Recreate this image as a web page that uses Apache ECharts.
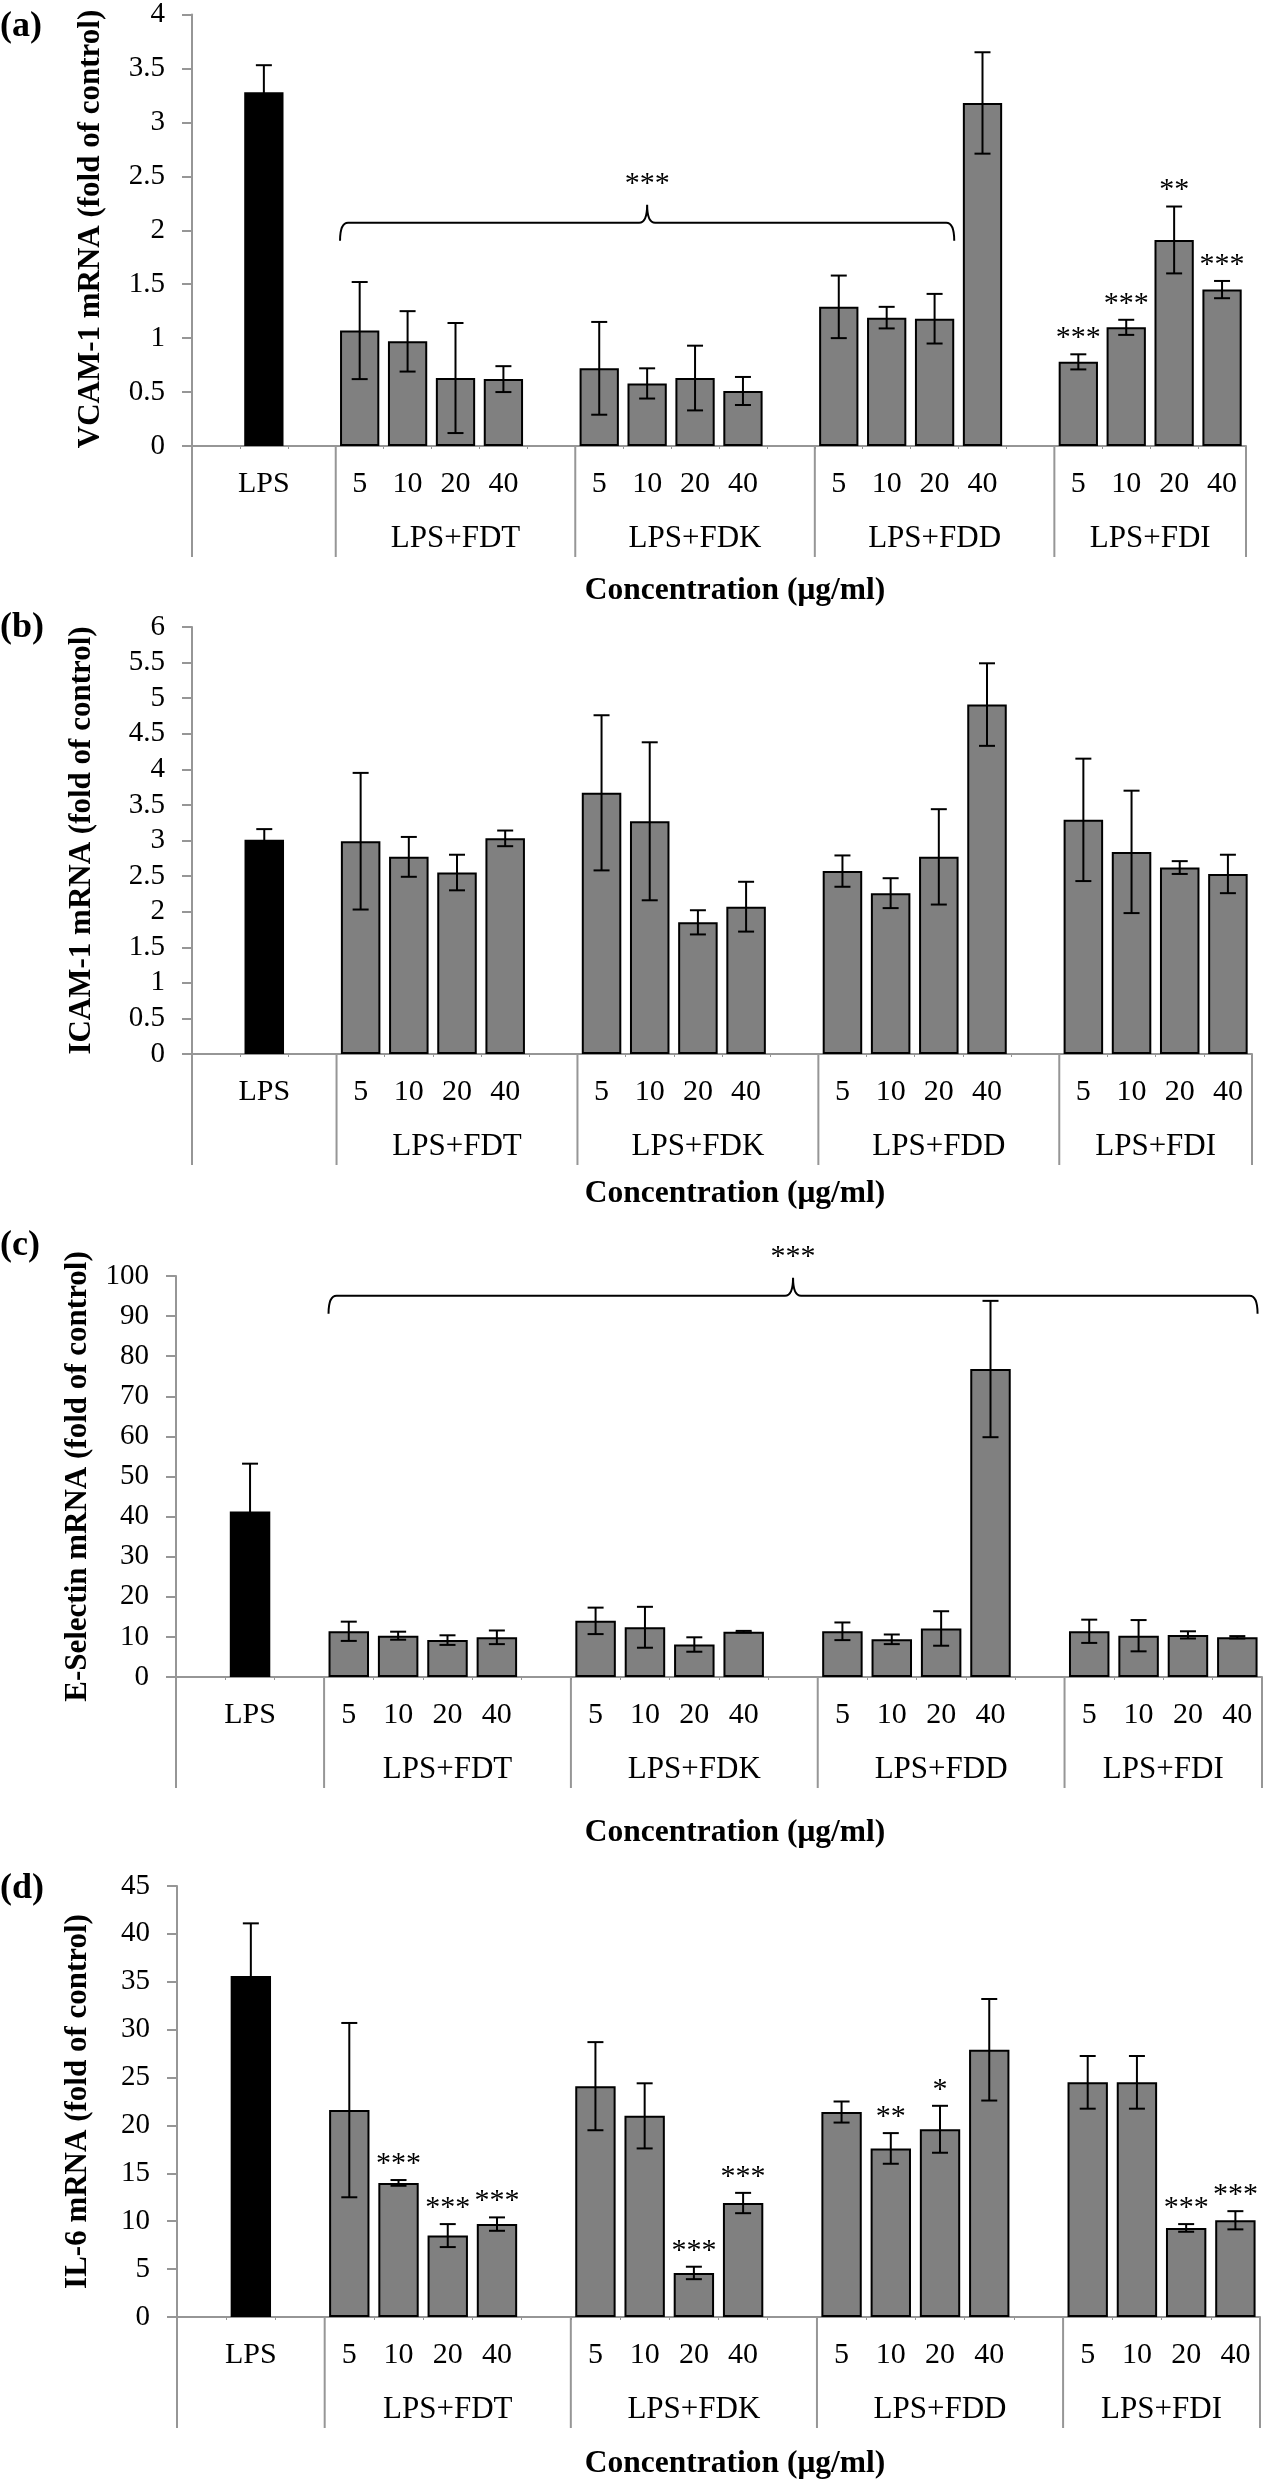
<!DOCTYPE html>
<html>
<head>
<meta charset="utf-8">
<style>html,body{margin:0;padding:0;background:#fff}#chart{width:1265px;height:2481px}</style>
<script src="https://cdn.jsdelivr.net/npm/echarts@6/dist/echarts.min.js"></script>
</head>
<body>
<div id="chart"></div>
<script>
// ---------- DATA ----------
const leafLabels = ['', 'LPS', '', '5', '10', '20', '40', '', '5', '10', '20', '40', '', '5', '10', '20', '40', '', '5', '10', '20', '40'];
const groupLabels = ['', 'LPS+FDT', 'LPS+FDK', 'LPS+FDD', 'LPS+FDI'];
const groupStart = [0, 3, 8, 13, 18];
const groupEnd = [3, 8, 13, 18, 22];
const barSlots = [1, 3, 4, 5, 6, 8, 9, 10, 11, 13, 14, 15, 16, 18, 19, 20, 21];
const xTitle = 'Concentration (\u03bcg/ml)';

const vcamValues = [3.28, 1.07, 0.97, 0.63, 0.62, 0.72, 0.58, 0.63, 0.51, 1.29, 1.19, 1.18, 3.18, 0.78, 1.10, 1.91, 1.45];
const vcamErrors = [0.25, 0.45, 0.28, 0.51, 0.12, 0.43, 0.14, 0.30, 0.13, 0.29, 0.10, 0.23, 0.47, 0.07, 0.07, 0.31, 0.08];
const vcamStars  = ['', '', '', '', '', '', '', '', '', '', '', '', '', '***', '***', '**', '***'];
const vcamBrace  = [3, 15, 2.07, '***'];

const icamValues = [3.01, 2.99, 2.77, 2.55, 3.03, 3.67, 3.27, 1.85, 2.07, 2.57, 2.26, 2.77, 4.91, 3.29, 2.84, 2.62, 2.53];
const icamErrors = [0.15, 0.96, 0.28, 0.25, 0.11, 1.09, 1.11, 0.17, 0.35, 0.22, 0.21, 0.67, 0.58, 0.86, 0.86, 0.09, 0.27];
const icamStars  = ['', '', '', '', '', '', '', '', '', '', '', '', '', '', '', '', ''];

const eselValues = [41.3, 11.4, 10.3, 9.2, 9.9, 14.0, 12.4, 8.1, 11.3, 11.4, 9.4, 12.1, 76.8, 11.4, 10.3, 10.5, 9.9];
const eselErrors = [11.9, 2.4, 1.0, 1.2, 1.7, 3.3, 5.1, 1.8, 0.2, 2.2, 1.2, 4.3, 17.0, 2.9, 3.9, 0.9, 0.3];
const eselStars  = ['', '', '', '', '', '', '', '', '', '', '', '', '', '', '', '', ''];
const eselBrace  = [3, 21, 95.1, '***'];

const il6Values = [35.6, 21.6, 14.0, 8.5, 9.7, 24.1, 21.0, 4.6, 11.9, 21.4, 17.6, 19.6, 27.9, 24.5, 24.5, 9.3, 10.1];
const il6Errors = [5.5, 9.1, 0.3, 1.2, 0.7, 4.6, 3.4, 0.65, 1.06, 1.1, 1.6, 2.45, 5.3, 2.75, 2.75, 0.4, 0.95];
const il6Stars  = ['', '', '***', '***', '***', '', '', '***', '***', '', '**', '*', '', '', '', '***', '***'];

const yNames = ['VCAM-1 mRNA (fold of control)', 'ICAM-1 mRNA (fold of control)', 'E-Selectin mRNA (fold of control)', 'IL-6 mRNA (fold of control)'];
const panelTags = ['(a)', '(b)', '(c)', '(d)'];
const yMax = [4, 6, 100, 45];
const yStep = [0.5, 0.5, 10, 5];

// ---------- LAYOUT / STYLE ----------
const FONT = '"Liberation Serif", "Times New Roman", serif';
const AXIS_GRAY = '#969696';
const BAR_GRAY = '#808080';
const layout = [
  {left: 192, right: 19, top: 12, height: 434, nameX: 91, tagY: 28, titleY: 591},
  {left: 192, right: 13, top: 627, height: 427, nameX: 82, tagY: 629, titleY: 1194},
  {left: 176, right: 3, top: 1276, height: 401, nameX: 78, tagY: 1247, titleY: 1833},
  {left: 177, right: 5, top: 1886, height: 431, nameX: 78, tagY: 1890, titleY: 2464}
];

const panels = [
  {values: vcamValues, errors: vcamErrors, stars: vcamStars, brace: vcamBrace},
  {values: icamValues, errors: icamErrors, stars: icamStars, brace: null},
  {values: eselValues, errors: eselErrors, stars: eselStars, brace: eselBrace},
  {values: il6Values, errors: il6Errors, stars: il6Stars, brace: null}
];

const catIds = leafLabels.map((_, i) => 'c' + i);

const grids = [], xAxes = [], yAxes = [], series = [], graphics = [];

panels.forEach((p, k) => {
  const L = layout[k];
  grids.push({left: L.left, right: L.right, top: L.top, height: L.height, containLabel: false});
  xAxes.push({
    type: 'category', gridIndex: k, data: catIds,
    axisLine: {lineStyle: {color: AXIS_GRAY, width: 2}},
    axisTick: {show: true, length: 3, lineStyle: {color: AXIS_GRAY, width: 1}},
    axisLabel: {interval: 0, formatter: (v, i) => leafLabels[i], fontFamily: FONT, fontSize: 30, color: '#000', margin: 23, lineHeight: 30},
    splitLine: {show: false}
  });
  yAxes.push({
    type: 'value', gridIndex: k, min: 0, max: yMax[k], interval: yStep[k],
    axisLine: {show: true, lineStyle: {color: AXIS_GRAY, width: 2}},
    axisTick: {show: true, length: 10, lineStyle: {color: AXIS_GRAY, width: 2}},
    axisLabel: {fontFamily: FONT, fontSize: 29, color: '#000', margin: 27},
    splitLine: {show: false}
  });
  // bars
  series.push({
    type: 'bar', xAxisIndex: k, yAxisIndex: k, barWidth: '82%',
    data: p.values.map((v, i) => ({value: [barSlots[i], v], itemStyle: {color: i === 0 ? '#000' : BAR_GRAY}})),
    itemStyle: {borderColor: '#000', borderWidth: 2},
    silent: true, animation: false
  });
  // error bars + significance stars
  const stars = p.stars;
  series.push({
    type: 'custom', xAxisIndex: k, yAxisIndex: k, z: 5, animation: false, silent: true,
    encode: {x: 0, y: 1},
    data: p.values.map((v, i) => [barSlots[i], v, p.errors[i]]),
    renderItem: (params, api) => {
      const x = api.value(0), v = api.value(1), e = api.value(2);
      const top = api.coord([x, v + e]);
      const bot = api.coord([x, v - e]);
      const hw = 8;
      const st = {stroke: '#000', lineWidth: 2};
      const ch = [
        {type: 'line', shape: {x1: top[0], y1: top[1], x2: bot[0], y2: bot[1]}, style: st},
        {type: 'line', shape: {x1: top[0] - hw, y1: top[1], x2: top[0] + hw, y2: top[1]}, style: st},
        {type: 'line', shape: {x1: bot[0] - hw, y1: bot[1], x2: bot[0] + hw, y2: bot[1]}, style: st}
      ];
      const s = stars[params.dataIndex];
      if (s) {
        ch.push({type: 'text', x: top[0], y: top[1] - 1, style: {text: s, fill: '#000', font: '30px ' + FONT, align: 'center', verticalAlign: 'bottom'}});
      }
      return {type: 'group', children: ch};
    }
  });
  // group separators and labels
  series.push({
    type: 'custom', xAxisIndex: k, yAxisIndex: k, z: 4, animation: false, silent: true,
    encode: {x: 0, y: 1},
    data: groupStart.map((s, g) => [s, 0, groupEnd[g], g]),
    renderItem: (params, api) => {
      const s = api.value(0), e = api.value(2), g = api.value(3);
      const band = api.size([1, 0])[0];
      const p0 = api.coord([s, 0]);
      const pe = api.coord([e - 1, 0]);
      const xl = p0[0] - band / 2, xr = pe[0] + band / 2, y0 = p0[1];
      const st = {stroke: AXIS_GRAY, lineWidth: 2};
      const ch = [{type: 'line', shape: {x1: xl, y1: y0, x2: xl, y2: y0 + 111}, style: st}];
      if (g === groupStart.length - 1) ch.push({type: 'line', shape: {x1: xr, y1: y0, x2: xr, y2: y0 + 111}, style: st});
      if (groupLabels[g]) ch.push({type: 'text', x: (xl + xr) / 2, y: y0 + 93, style: {text: groupLabels[g], fill: '#000', font: '31px ' + FONT, align: 'center', verticalAlign: 'middle'}});
      return {type: 'group', children: ch};
    }
  });
  // brace
  if (p.brace) {
    const b = p.brace;
    series.push({
      type: 'custom', xAxisIndex: k, yAxisIndex: k, z: 6, animation: false, silent: true,
      encode: {x: 0, y: 2},
      data: [[b[0], b[1], b[2]]],
      renderItem: (params, api) => {
        const band = api.size([1, 0])[0];
        const a = api.coord([api.value(0), api.value(2)]);
        const c = api.coord([api.value(1), api.value(2)]);
        const xl = a[0] - band * 0.41, xr = c[0] + band * 0.41, y = a[1];
        const xm = (xl + xr) / 2, h = 18, r = 8;
        const path = `M${xl} ${y + h} Q${xl} ${y} ${xl + r} ${y} L${xm - r} ${y} Q${xm} ${y} ${xm} ${y - h} Q${xm} ${y} ${xm + r} ${y} L${xr - r} ${y} Q${xr} ${y} ${xr} ${y + h}`;
        return {type: 'group', children: [
          {type: 'path', shape: {pathData: path}, style: {fill: 'none', stroke: '#000', lineWidth: 2}},
          {type: 'text', x: xm, y: y - h - 6, style: {text: b[3], fill: '#000', font: '30px ' + FONT, align: 'center', verticalAlign: 'bottom'}}
        ]};
      }
    });
  }
  // panel tag, y name, x title
  graphics.push({type: 'text', left: 0, top: L.tagY - 19, style: {text: panelTags[k], fill: '#000', font: 'bold 36px ' + FONT}});
  graphics.push({type: 'text', x: L.nameX, y: L.top + L.height / 2, rotation: Math.PI / 2,
    style: {text: yNames[k], fill: '#000', font: 'bold 31px ' + FONT, align: 'center', verticalAlign: 'middle'}});
  graphics.push({type: 'text', x: 735, y: L.titleY, style: {text: xTitle, fill: '#000', font: 'bold 31.5px ' + FONT, align: 'center', verticalAlign: 'middle'}});
});

const chart = echarts.init(document.getElementById('chart'), null, {renderer: 'canvas'});
chart.setOption({
  backgroundColor: '#fff',
  animation: false,
  grid: grids, xAxis: xAxes, yAxis: yAxes, series: series,
  graphic: graphics
});
</script>
</body>
</html>
